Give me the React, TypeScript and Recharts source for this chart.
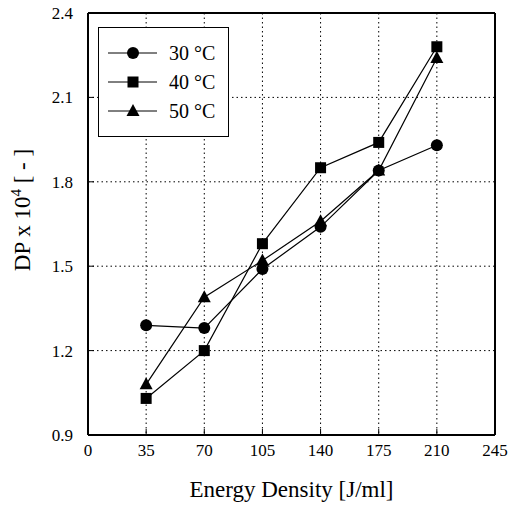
import React from 'react';
import { LineChart, Line, XAxis, YAxis, CartesianGrid, ReferenceLine, Label } from 'recharts';

const energy = [35, 70, 105, 140, 175, 210];
const dp30 = [1.29, 1.28, 1.49, 1.64, 1.84, 1.93];
const dp40 = [1.03, 1.2, 1.58, 1.85, 1.94, 2.28];
const dp50 = [1.08, 1.39, 1.52, 1.66, 1.84, 2.24];
const xTicks = [0, 35, 70, 105, 140, 175, 210, 245];
const yTicks = [0.9, 1.2, 1.5, 1.8, 2.1, 2.4];
const seriesNames = ['30 °C', '40 °C', '50 °C'];

const data = energy.map((e, i) => ({ e, s30: dp30[i], s40: dp40[i], s50: dp50[i] }));

const FONT = '"Liberation Serif", "DejaVu Serif", serif';

const CircleDot = (props: any) => {
  const { cx, cy } = props;
  if (cx == null || cy == null) return null;
  return <circle cx={cx} cy={cy} r={6} fill="#000" />;
};

const SquareDot = (props: any) => {
  const { cx, cy } = props;
  if (cx == null || cy == null) return null;
  return <rect x={cx - 5.5} y={cy - 5.5} width={11} height={11} fill="#000" />;
};

const TriangleDot = (props: any) => {
  const { cx, cy } = props;
  if (cx == null || cy == null) return null;
  return <polygon points={`${cx},${cy - 7} ${cx - 6.5},${cy + 5} ${cx + 6.5},${cy + 5}`} fill="#000" />;
};

function LegendBox() {
  const shapes = ['circle', 'square', 'triangle'];
  return (
    <svg width={131} height={110} style={{ display: 'block' }}>
      <rect x={0.5} y={0.5} width={130} height={109} fill="#fff" stroke="#000" strokeWidth={1} />
      {seriesNames.map((name, i) => {
        const y = 26 + i * 29;
        return (
          <g key={name}>
            <line x1={10} y1={y} x2={59} y2={y} stroke="#000" strokeWidth={1} />
            {shapes[i] === 'circle' && <circle cx={35} cy={y} r={6} fill="#000" />}
            {shapes[i] === 'square' && <rect x={29.5} y={y - 5.5} width={11} height={11} fill="#000" />}
            {shapes[i] === 'triangle' && (
              <polygon points={`35,${y - 7} 28.5,${y + 5} 41.5,${y + 5}`} fill="#000" />
            )}
            <text x={71} y={y + 7} fontFamily={FONT} fontSize={20} fill="#000">{name}</text>
          </g>
        );
      })}
    </svg>
  );
}

const YLabel = (props: any) => {
  const vb = props.viewBox || {};
  const cx = 30;
  const cy = (vb.y ?? 13) + (vb.height ?? 422) / 2 - 14;
  return (
    <text
      x={cx}
      y={cy}
      transform={`rotate(-90 ${cx} ${cy})`}
      textAnchor="middle"
      fontFamily={FONT}
      fontSize={23}
      fill="#000"
    >
      DP x 10<tspan dy={-9} fontSize={15}>4</tspan><tspan dy={9}> [ - ]</tspan>
    </text>
  );
};

export default function App() {
  return (
    <div style={{ position: 'absolute', left: 0, top: 0, width: 518, height: 510, background: '#fff' }}>
      <LineChart
        width={518}
        height={510}
        data={data}
        margin={{ top: 13, right: 23, bottom: 45, left: 48 }}
      >
        <CartesianGrid stroke="#000" strokeDasharray="1.5 3" strokeWidth={1} />
        <XAxis
          dataKey="e"
          type="number"
          domain={[0, 245]}
          ticks={xTicks}
          height={30}
          tickSize={-6}
          tickMargin={15}
          axisLine={{ stroke: '#000', strokeWidth: 2 }}
          tickLine={{ stroke: '#000' }}
          tick={{ fill: '#000', fontFamily: FONT, fontSize: 17 }}
          interval={0}
        >
          <Label
            value="Energy Density [J/ml]"
            position="bottom"
            offset={16}
            style={{ fill: '#000', fontFamily: FONT, fontSize: 23 }}
          />
        </XAxis>
        <YAxis
          type="number"
          domain={[0.9, 2.4]}
          ticks={yTicks}
          width={40}
          tickSize={-6}
          tickMargin={21}
          axisLine={{ stroke: '#000', strokeWidth: 2 }}
          tickLine={{ stroke: '#000' }}
          tick={{ fill: '#000', fontFamily: FONT, fontSize: 17 }}
          tickFormatter={(v: number) => v.toFixed(1)}
          interval={0}
        >
          <Label content={<YLabel />} />
        </YAxis>
        <ReferenceLine y={2.4} stroke="#000" strokeWidth={2} />
        <ReferenceLine x={245} stroke="#000" strokeWidth={2} />
        <Line dataKey="s30" name={seriesNames[0]} stroke="#000" strokeWidth={1.2} dot={<CircleDot />} isAnimationActive={false} />
        <Line dataKey="s40" name={seriesNames[1]} stroke="#000" strokeWidth={1.2} dot={<SquareDot />} isAnimationActive={false} />
        <Line dataKey="s50" name={seriesNames[2]} stroke="#000" strokeWidth={1.2} dot={<TriangleDot />} isAnimationActive={false} />
      </LineChart>
      <div style={{ position: 'absolute', left: 98, top: 27 }}>
        <LegendBox />
      </div>
    </div>
  );
}
